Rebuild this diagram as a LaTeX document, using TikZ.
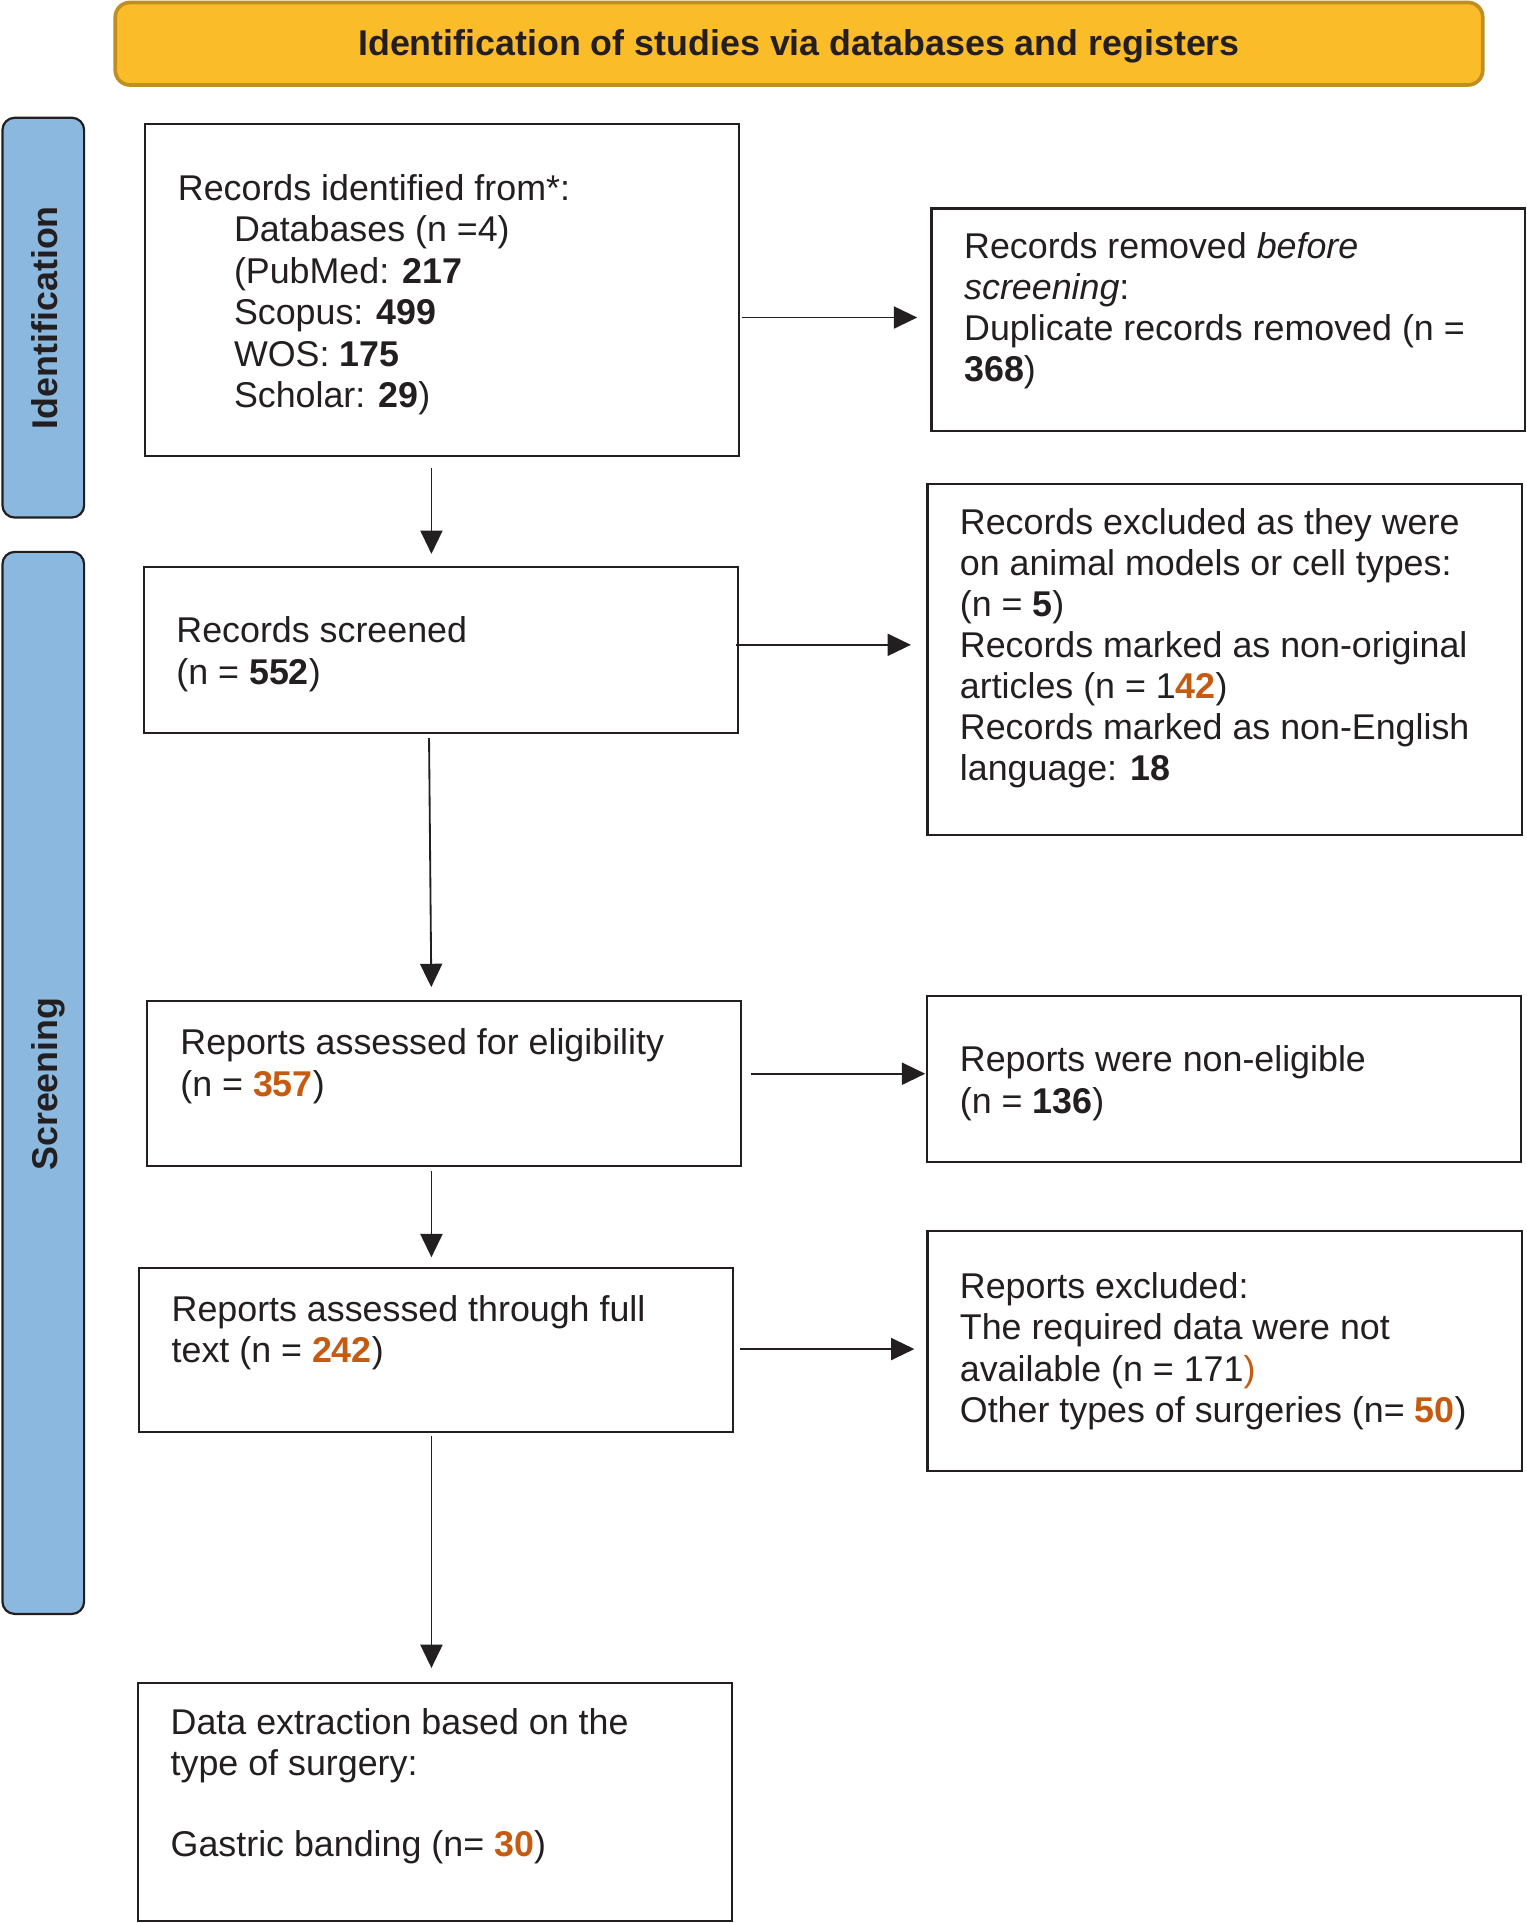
\documentclass[tikz,border=0pt]{standalone}
\usepackage{fontspec}
\setmainfont{Liberation Sans}
\usetikzlibrary{arrows.meta}
\definecolor{txt}{HTML}{231F20}
\definecolor{orng}{HTML}{C55A11}
\definecolor{goldfill}{HTML}{FBBC2A}
\definecolor{goldline}{HTML}{C08F24}
\definecolor{sideblue}{HTML}{8AB8DF}
\begin{document}
\begin{tikzpicture}[x=1pt,y=-1pt,
  procbox/.style={draw=txt, line width=1.7pt, fill=white, inner sep=0pt, rectangle},
  lbl/.style={anchor=north west, inner sep=0pt, align=left, text=txt},
  arr/.style={draw=txt, line width=1.5pt, -{Triangle[length=19pt,width=18pt]}},
  sidebar/.style={draw=txt, line width=1.8pt, fill=sideblue, rounded corners=10pt, inner sep=0pt},
  banner/.style={draw=goldline, line width=3pt, fill=goldfill, rounded corners=12pt, inner sep=0pt},
  headtxt/.style={font=\bfseries\fontsize{29.2}{34}\selectfont, text=txt, inner sep=0pt},
]
\useasboundingbox (0,0) rectangle (1244.5,1568);

% header and side bars
\node[banner, minimum width=1115pt, minimum height=67.3pt] (top) at (651.5,35.65) {};
\node[headtxt, anchor=base] (toptxt) at (651.5,44.9) {Identification of studies via databases and registers};
\node[sidebar, minimum width=66.6pt, minimum height=326pt] (idbar) at (35.3,259) {};
\node[headtxt, anchor=base, rotate=90] (idtxt) at (46.6,259) {Identification};
\node[sidebar, minimum width=66.6pt, minimum height=866pt] (scbar) at (35.3,883) {};
\node[headtxt, anchor=base, rotate=90] (sctxt) at (46.6,884) {Screening};

% boxes
\node[procbox, minimum width=484.4pt, minimum height=270.6pt] (b1) at (360.1,236.7) {};
\node[procbox, minimum width=484pt, minimum height=181.6pt] (b2) at (1001.5,260.8) {};
\node[procbox, minimum width=484.8pt, minimum height=134.9pt] (b3) at (359.5,530) {};
\node[procbox, minimum width=484.4pt, minimum height=286.1pt] (b4) at (998.5,537.6) {};
\node[procbox, minimum width=484.3pt, minimum height=134.6pt] (b5) at (361.7,883.2) {};
\node[procbox, minimum width=484.5pt, minimum height=135.4pt] (b6) at (998.3,879.9) {};
\node[procbox, minimum width=484.3pt, minimum height=134.2pt] (b7) at (355.4,1100.7) {};
\node[procbox, minimum width=484.4pt, minimum height=195.8pt] (b8) at (998.5,1101.4) {};
\node[procbox, minimum width=484.3pt, minimum height=194.2pt] (b9) at (354.6,1469.5) {};

% texts
\node[lbl, font=\fontsize{29.2}{33.8}\selectfont] (t1) at (144.9,139.2) {\rule{0pt}{24pt}Records identified from*:\\
\hspace*{45.7pt}Databases (n =4)\\
\hspace*{45.7pt}(PubMed: \textbf{217}\\
\hspace*{45.7pt}Scopus: \textbf{499}\\
\hspace*{45.7pt}WOS: \textbf{175}\\
\hspace*{45.7pt}Scholar: \textbf{29})};
\node[lbl, font=\fontsize{29.2}{33.3}\selectfont] (t2) at (786,186.8) {\rule{0pt}{24pt}Records removed \textit{before}\\
\textit{screening}:\\
Duplicate records removed (n =\\
\textbf{368})};
\node[lbl, font=\fontsize{29.2}{34}\selectfont] (t3) at (143.7,499.8) {\rule{0pt}{24pt}Records screened\\
(n = \textbf{552})};
\node[lbl, font=\fontsize{29.2}{33.5}\selectfont] (t4) at (782.5,411.4) {\rule{0pt}{24pt}Records excluded as they were\\
on animal models or cell types:\\
(n = \textbf{5})\\
Records marked as non-original\\
articles (n = 1\textcolor{orng}{\textbf{42}})\\
Records marked as non-English\\
language: \textbf{18}};
\node[lbl, font=\fontsize{29.2}{34}\selectfont] (t5) at (146.9,835.6) {\rule{0pt}{24pt}Reports assessed for eligibility\\
(n = \textcolor{orng}{\textbf{357}})};
\node[lbl, font=\fontsize{29.2}{34}\selectfont] (t6) at (782.5,849.8) {\rule{0pt}{24pt}Reports were non-eligible\\
(n = \textbf{136})};
\node[lbl, font=\fontsize{29.2}{33.5}\selectfont] (t7) at (139.8,1053.6) {\rule{0pt}{24pt}Reports assessed through full\\
text (n = \textcolor{orng}{\textbf{242}})};
\node[lbl, font=\fontsize{29.2}{33.8}\selectfont] (t8) at (782.5,1034.4) {\rule{0pt}{24pt}Reports excluded:\\
The required data were not\\
available (n = 171\textcolor{orng}{)}\\
Other types of surgeries (n= \textcolor{orng}{\textbf{50}})};
\node[lbl, font=\fontsize{29.2}{33}\selectfont] (t9) at (139,1390.2) {\rule{0pt}{24pt}Data extraction based on the\\
type of surgery:\\[33pt]
Gastric banding (n= \textcolor{orng}{\textbf{30}})};

% arrow guide coordinates
\coordinate (ax) at (351.8,0);
\coordinate (axs) at (349.8,0);
\coordinate (y12) at (0,258.9);
\coordinate (y34) at (0,525.8);
\coordinate (y56) at (0,875.5);
\coordinate (y78) at (0,1100);

% connectors
\draw[arr, shorten <=8.7pt, shorten >=10.1pt] (b1.south -| ax) -- (b3.north -| ax);
\draw[arr, shorten <=3.6pt, shorten >=10.2pt] (b3.south -| axs) -- (b5.north -| ax);
\draw[arr, shorten <=3.8pt, shorten >=7.6pt] (b5.south -| ax) -- (b7.north -| ax);
\draw[arr, shorten <=1.9pt, shorten >=11.5pt] (b7.south -| ax) -- (b9.north -| ax);
\draw[arr, shorten <=1.5pt, shorten >=10.8pt] (b1.east |- y12) -- (b2.west |- y12);
\draw[arr, shorten <=-2.4pt, shorten >=12.7pt] (b3.east |- y34) -- (b4.west |- y34);
\draw[arr, shorten <=7.6pt, shorten >=0.8pt] (b5.east |- y56) -- (b6.west |- y56);
\draw[arr, shorten <=5.2pt, shorten >=9.9pt] (b7.east |- y78) -- (b8.west |- y78);
\end{tikzpicture}
\end{document}
